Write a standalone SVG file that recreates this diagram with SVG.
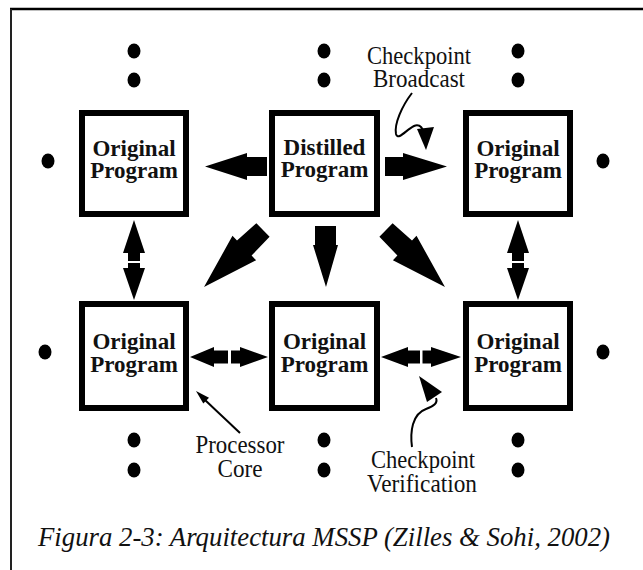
<svg xmlns="http://www.w3.org/2000/svg" width="643" height="570" viewBox="0 0 643 570" font-family="Liberation Serif">
<style>
.box{fill:#fff;stroke:#000;stroke-width:6}
.bl{font-weight:bold;font-size:23px;text-anchor:middle;fill:#111}
.lb{font-size:25px;text-anchor:middle;fill:#111}
.cap{font-style:italic;font-size:28px;fill:#111}
.dot{fill:#000}
.ar{fill:#000}
.thin{fill:none;stroke:#000;stroke-width:2}
</style>
<rect width="643" height="570" fill="#fff"/>
<g id="frame">
<line x1="10" y1="9" x2="643" y2="9" stroke="#000" stroke-width="2.5"/>
<line x1="11" y1="9" x2="11" y2="570" stroke="#222" stroke-width="2"/>
</g>
<g id="dots">
<ellipse class="dot" cx="134" cy="51" rx="6.5" ry="7.5"/>
<ellipse class="dot" cx="134" cy="80" rx="6.5" ry="7.5"/>
<ellipse class="dot" cx="324" cy="51" rx="6.5" ry="7.5"/>
<ellipse class="dot" cx="324" cy="80" rx="6.5" ry="7.5"/>
<ellipse class="dot" cx="518" cy="51" rx="6.5" ry="7.5"/>
<ellipse class="dot" cx="518" cy="80" rx="6.5" ry="7.5"/>
<ellipse class="dot" cx="48" cy="161" rx="6.5" ry="7.5"/>
<ellipse class="dot" cx="603" cy="161" rx="6.5" ry="7.5"/>
<ellipse class="dot" cx="45" cy="352" rx="6.5" ry="7.5"/>
<ellipse class="dot" cx="603" cy="352" rx="6.5" ry="7.5"/>
<ellipse class="dot" cx="134" cy="440" rx="6.5" ry="7.5"/>
<ellipse class="dot" cx="134" cy="470" rx="6.5" ry="7.5"/>
<ellipse class="dot" cx="324" cy="440" rx="6.5" ry="7.5"/>
<ellipse class="dot" cx="324" cy="470" rx="6.5" ry="7.5"/>
<ellipse class="dot" cx="518" cy="440" rx="6.5" ry="7.5"/>
<ellipse class="dot" cx="518" cy="470" rx="6.5" ry="7.5"/>
</g>
<g id="node-top-left">
<rect class="box" x="82" y="113" width="104" height="101"/>
<text class="bl" x="134" y="156" font-family="Liberation Serif">Original</text>
<text class="bl" x="134" y="178" font-family="Liberation Serif">Program</text>
</g>
<g id="node-distilled">
<rect class="box" x="272" y="113" width="105" height="101"/>
<text class="bl" x="324.5" y="155" font-family="Liberation Serif">Distilled</text>
<text class="bl" x="324.5" y="177" font-family="Liberation Serif">Program</text>
</g>
<g id="node-top-right">
<rect class="box" x="466" y="113" width="104" height="101"/>
<text class="bl" x="518" y="156" font-family="Liberation Serif">Original</text>
<text class="bl" x="518" y="178" font-family="Liberation Serif">Program</text>
</g>
<g id="node-bottom-left">
<rect class="box" x="82" y="304" width="104" height="104"/>
<text class="bl" x="134" y="349" font-family="Liberation Serif">Original</text>
<text class="bl" x="134" y="372" font-family="Liberation Serif">Program</text>
</g>
<g id="node-bottom-center">
<rect class="box" x="272" y="304" width="105" height="104"/>
<text class="bl" x="324.5" y="349" font-family="Liberation Serif">Original</text>
<text class="bl" x="324.5" y="372" font-family="Liberation Serif">Program</text>
</g>
<g id="node-bottom-right">
<rect class="box" x="466" y="304" width="104" height="104"/>
<text class="bl" x="518" y="349" font-family="Liberation Serif">Original</text>
<text class="bl" x="518" y="372" font-family="Liberation Serif">Program</text>
</g>
<g id="connectors">
<polygon class="ar" points="267,157 247,157 247,153 205,166.5 247,180 247,176 267,176"/>
<polygon class="ar" points="385,157 403,157 403,153 447,166.5 403,180 403,176 385,176"/>
<polygon class="ar" points="315,226 336,226 336,245 338,245 326,287 313,245 315,245"/>
<polygon class="ar" points="0,-9.5 26,-10.5 26,-17 82,0 26,17 26,10.5 0,9.5" transform="translate(263,230) rotate(136)"/>
<polygon class="ar" points="0,-9.5 26,-10.5 26,-17 82,0 26,17 26,10.5 0,9.5" transform="translate(386,230) rotate(44)"/>
<polygon class="ar" points="134,220 145,253 140,253 140,261 128,261 128,253 123,253"/>
<polygon class="ar" points="128,263 140,263 140,268 145,268 134,300 123,268 128,268"/>
<polygon class="ar" points="518,220 529,253 524,253 524,261 512,261 512,253 507,253"/>
<polygon class="ar" points="512,263 524,263 524,268 529,268 518,300 507,268 512,268"/>
<polygon class="ar" points="190,357 214,347 214,350.5 228,350.5 228,363.5 214,363.5 214,367"/>
<polygon class="ar" points="268,357 240,347 240,350.5 231,350.5 231,363.5 240,363.5 240,367"/>
<polygon class="ar" points="381,357 408,347 408,350.5 420,350.5 420,363.5 408,363.5 408,367"/>
<polygon class="ar" points="461,357 431,347 431,350.5 422.5,350.5 422.5,363.5 431,363.5 431,367"/>
<path class="thin" d="M412,93 C402,106 394,124 396,134 C398,141 406,130 414,126 C418,124 421,126 423,130"/>
<polygon class="ar" points="417,129 434,127 426,150"/>
<line class="thin" x1="240" y1="433" x2="205" y2="400"/>
<polygon class="ar" points="196,391 209,397.8 203.3,403.6"/>
<path class="thin" d="M412,447 C410,432 412,414 426,409 C434,406 438,403 436,398"/>
<polygon class="ar" points="419,376 442,392 427,402"/>
</g>
<g id="labels" font-family="Liberation Serif">
<text class="lb" x="419" y="64" font-family="Liberation Serif" textLength="104" lengthAdjust="spacingAndGlyphs">Checkpoint</text>
<text class="lb" x="419" y="87" font-family="Liberation Serif" textLength="92" lengthAdjust="spacingAndGlyphs">Broadcast</text>
<text class="lb" x="240" y="453" font-family="Liberation Serif" textLength="89" lengthAdjust="spacingAndGlyphs">Processor</text>
<text class="lb" x="240" y="477" font-family="Liberation Serif" textLength="45" lengthAdjust="spacingAndGlyphs">Core</text>
<text class="lb" x="423" y="468" font-family="Liberation Serif" textLength="104" lengthAdjust="spacingAndGlyphs">Checkpoint</text>
<text class="lb" x="422" y="492" font-family="Liberation Serif" textLength="110" lengthAdjust="spacingAndGlyphs">Verification</text>
<text class="cap" x="38" y="546" font-family="Liberation Serif" textLength="572" lengthAdjust="spacingAndGlyphs">Figura 2-3: Arquitectura MSSP (Zilles &amp; Sohi, 2002)</text>
</g>
</svg>
